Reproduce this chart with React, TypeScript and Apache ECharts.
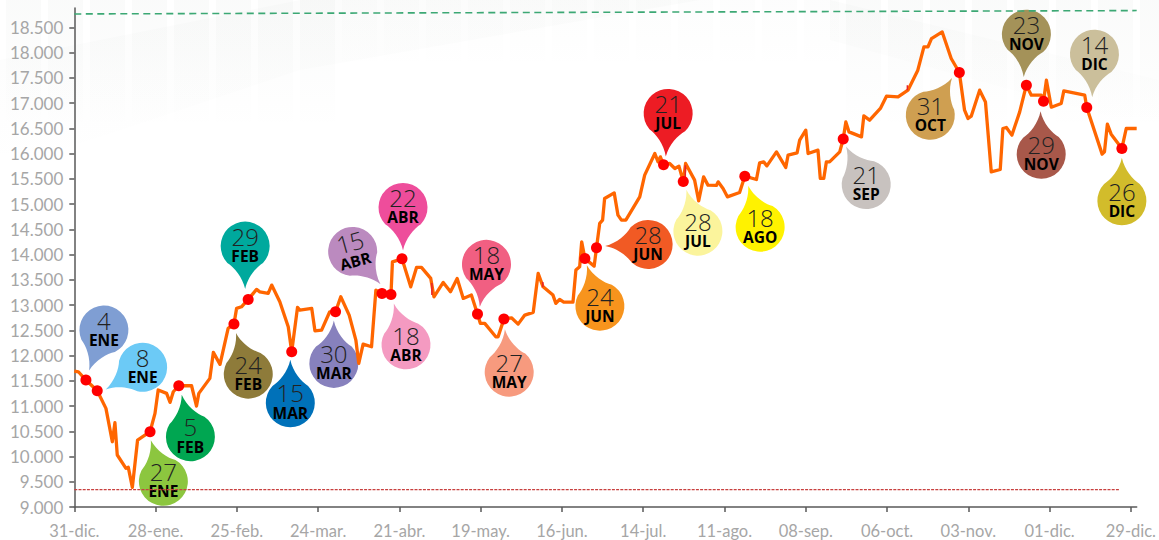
import React, { useEffect, useRef } from "react";
import * as echarts from "echarts";

const xTickLabels = ["31-dic.", "28-ene.", "25-feb.", "24-mar.", "21-abr.", "19-may.", "16-jun.", "14-jul.", "11-ago.", "08-sep.", "06-oct.", "03-nov.", "01-dic.", "29-dic."];
const yTicks = [9000, 9500, 10000, 10500, 11000, 11500, 12000, 12500, 13000, 13500, 14000, 14500, 15000, 15500, 16000, 16500, 17000, 17500, 18000, 18500];

const days = [0, 1.4, 4, 7.9, 10.9, 13.1, 14, 14.8, 17.8, 18.6, 20, 21.8, 26.1, 27.8, 28.9, 31.8, 33, 34.1, 36, 40.4, 42.1, 42.9, 46.7, 47.9, 50.2, 53, 55, 55.9, 57.6, 59.9, 62.8, 63.9, 66.8, 68, 70.8, 73.7, 74.9, 76.9, 77.7, 81.8, 82.9, 85.2, 88, 90, 91.8, 94.7, 97, 98, 99.5, 102.4, 103.9, 106, 109.1, 109.6, 112.9, 115.9, 117.9, 119.6, 122.8, 123.9, 127.1, 129.6, 131.9, 134, 136.8, 138.9, 139.9, 141.4, 145.2, 146, 148, 150.6, 152.9, 155.2, 158.1, 159.8, 161.5, 164.9, 165.9, 167.2, 168.6, 171.8, 172.8, 174.1, 174.8, 175.9, 179.1, 179.9, 181, 182, 182.7, 186, 187.3, 188.5, 190, 194.8, 196.5, 200, 201.1, 201.9, 203, 205.1, 206.9, 208.3, 209.8, 210.6, 213.7, 215.1, 216.8, 218.3, 221.2, 221.8, 223.5, 225, 229.2, 231, 235, 236.1, 237.5, 238.6, 241.9, 243.6, 245.1, 245.9, 249, 249.9, 252, 252.8, 256.2, 257, 258.2, 259.1, 260.2, 263.7, 264.9, 265.8, 266.9, 271.2, 272, 274, 277.7, 279.8, 283.8, 287.2, 290.6, 292.7, 294.1, 295.3, 299, 302.1, 304.9, 306.7, 307.9, 309, 311.9, 313.9, 315.9, 319, 319.9, 321.1, 323, 325.7, 328, 329.7, 333.1, 333.9, 334.9, 336.6, 340, 340.9, 348.1, 348.8, 354.1, 354.9, 355.9, 357.2, 360.9, 362.4, 366];
const values = [11693, 11679, 11515, 11303, 10954, 10293, 10669, 10030, 9766, 9786, 9390, 10327, 10491, 10855, 11317, 11251, 11073, 11283, 11402, 11402, 11000, 11251, 11548, 12063, 11825, 12538, 12623, 12934, 12966, 13112, 13310, 13263, 13231, 13396, 13065, 12570, 12075, 12954, 12901, 12934, 12491, 12505, 12867, 12867, 13164, 12802, 12307, 11845, 12227, 12174, 13297, 13231, 13211, 13857, 13916, 13362, 13746, 13746, 13528, 13164, 13449, 13263, 13528, 13132, 13198, 12821, 12637, 12637, 12372, 12372, 12722, 12748, 12623, 12802, 12855, 13627, 13362, 13198, 13033, 13112, 13059, 13059, 13693, 13758, 14253, 13924, 13772, 14134, 14617, 14683, 15112, 15223, 14782, 14683, 14683, 15144, 15574, 16003, 15837, 15936, 15778, 15805, 15706, 15752, 15449, 15805, 15475, 15065, 15540, 15376, 15370, 15441, 15310, 15144, 15231, 15554, 15488, 15817, 15837, 15758, 16035, 15871, 15726, 15970, 16015, 16267, 16465, 16003, 16069, 15508, 15508, 15837, 15837, 16035, 16290, 16629, 16431, 16332, 16748, 16663, 16895, 17138, 17124, 17257, 17653, 18114, 18114, 18280, 18411, 17884, 17607, 16861, 16696, 16742, 17257, 17025, 15639, 15686, 16498, 16518, 16366, 16827, 17356, 17158, 17158, 17039, 17455, 16920, 16993, 17243, 17158, 16914, 15990, 16035, 16584, 16385, 16103, 16498, 16498];

const redBitDays = [123.2, 123.2, null, 161.4, 161.4, null, 210.5, 210.5, null, 287, 287];
const redBitValues = [13436, 13198, null, 13455, 13356, null, 15772, 15534, null, 17356, 17257];

const maxDays = [0, 366];
const maxValues = [18767, 18834];
const minDays = [0, 360];
const minValues = [9343, 9343];

const markDays = [4, 7.9, 26.1, 36, 55, 59.9, 74.9, 90, 106, 109.1, 112.9, 138.9, 148, 175.9, 179.9, 203, 209.8, 231, 264.9, 304.9, 328, 333.9, 348.8, 360.9];
const markValues = [11515, 11303, 10491, 11402, 12623, 13112, 12075, 12867, 13231, 13211, 13916, 12821, 12722, 13924, 14134, 15778, 15449, 15554, 16290, 17607, 17356, 17039, 16914, 16103];
const markDayLabels = ["4", "8", "27", "5", "24", "29", "15", "30", "15", "18", "22", "18", "27", "24", "28", "21", "28", "18", "21", "31", "23", "29", "14", "26"];
const markMonthLabels = ["ENE", "ENE", "ENE", "FEB", "FEB", "FEB", "MAR", "MAR", "ABR", "ABR", "ABR", "MAY", "MAY", "JUN", "JUN", "JUL", "JUL", "AGO", "SEP", "OCT", "NOV", "NOV", "DIC", "DIC"];

// Styling of the 24 callout drops: colour, centre offset and tip offset from the point.
const dropColors = ["#7f9ed3", "#6ccaf6", "#8cc63f", "#00a651", "#8e7b3a", "#00a99d", "#0071b9", "#8781bd", "#bb8abf", "#f49ac1", "#ee4d9b", "#f15f82", "#f79a7e", "#f7941d", "#f15a24", "#ed1c24", "#fbf49c", "#fff200", "#c8c2bf", "#cf9f51", "#a49259", "#a8584a", "#cbbf9b", "#d2bc2b"];
const dropOffsets = [
  [18, -50, 3, -9], [45.4, -23.4, 8.7, -1.4], [13.3, 49.6, 0.7, 8.3], [11.6, 51, 3, 9.3], [14.3, 50, 2, 8.7], [-3, -53.3, -3, -10],
  [-1.4, 51, -1.4, 8.3], [-1.7, 51.6, -1.7, 8.3], [-29.3, -42, -1.3, -9], [15, 50.4, 3, 9.7], [1, -51.4, 1, -8], [9, -49.7, 2.3, -7.3],
  [5.3, 53, 1, 10.3], [15, 47.7, 2.7, 9], [51.6, -3.4, 8.3, -1.7], [4.6, -51.4, 2.3, -8.7], [14.6, 49.7, 3, 8], [15.3, 51, 3.3, 9.3],
  [23, 45.5, 3, 7.9], [-29, 42.7, -7, 5], [0, -51, -2.7, -7.7], [-2.3, 53, -3, 9.7], [7.7, -53.3, 5.4, -10], [0, 52.4, 0, 9],
];
const dropPath = "M0,-43 C2.5,-31 11,-21 17.8,-16.8 A24.5,24.5 0 1 1 -17.8,-16.8 C-11,-21 -2.5,-31 0,-43 Z";
const AXIS_TEXT = "#a6a6a6";
const AXIS_LINE = "#595959";

function pairs(xs: (number | null)[], ys: (number | null)[]) {
  return xs.map((x, i) => [x, ys[i]]);
}

function renderDrop(params: any, api: any) {
  const i = params.dataIndex;
  const p = api.coord([api.value(0), api.value(1)]);
  const [cdx, cdy, tdx, tdy] = dropOffsets[i];
  const cx = p[0] + cdx;
  const cy = p[1] + cdy;
  const rotation = Math.atan2(-(tdx - cdx), -(tdy - cdy));
  return {
    type: "group",
    children: [
      { type: "path", x: cx, y: cy, rotation, shape: { pathData: dropPath }, style: { fill: dropColors[i] } },
      {
        type: "group",
        x: cx,
        y: cy,
        rotation: i === 8 ? 0.27 : 0,
        children: [
          { type: "text", x: 0, y: -9.8, style: { text: markDayLabels[i], fill: "#222222", font: '300 24px "Open Sans"', textAlign: "center", textVerticalAlign: "middle" } },
          { type: "text", x: 0, y: 9.8, style: { text: markMonthLabels[i], fill: "#000000", font: '700 15.5px "Open Sans"', textAlign: "center", textVerticalAlign: "middle" } },
        ],
      },
    ],
  };
}

function fade(alpha: number) {
  return new echarts.graphic.LinearGradient(0, 0, 0, 1, [
    { offset: 0, color: `rgba(90,110,95,${alpha})` },
    { offset: 1, color: "rgba(90,110,95,0)" },
  ]);
}

function backdrop() {
  const els: any[] = [];
  for (let x = 6, k = 0; x < 1159; x += 42, k++) {
    const mid = x > 300 && x < 830;
    els.push({ type: "rect", z: -1, silent: true, shape: { x, y: 0, width: 35, height: mid ? 70 : 130 }, style: { fill: fade(mid ? 0.015 : 0.03) } });
  }
  els.push({ type: "polygon", z: -1, silent: true, shape: { points: [[0, 60], [300, 0], [700, 0], [300, 70], [0, 170]] }, style: { fill: fade(0.02) } });
  els.push({ type: "polygon", z: -1, silent: true, shape: { points: [[830, 0], [1159, 80], [1159, 130], [830, 40]] }, style: { fill: fade(0.02) } });
  return els;
}

export default function App() {
  const ref = useRef<HTMLDivElement>(null);
  useEffect(() => {
    const chart = echarts.init(ref.current!, undefined, { renderer: "svg" });
    chart.setOption({
      animation: false,
      backgroundColor: "#ffffff",
      graphic: backdrop(),
      grid: { left: 74.3, right: 22.3, top: 8, bottom: 33, containLabel: false },
      xAxis: {
        type: "value",
        min: 0,
        max: 366,
        interval: 28,
        splitLine: { show: false },
        axisLine: { lineStyle: { color: AXIS_LINE, width: 1.5 } },
        axisTick: { length: 5, lineStyle: { color: AXIS_LINE, width: 1.5 }, customValues: xTickLabels.map((_, i) => i * 28) },
        axisLabel: {
          color: AXIS_TEXT,
          fontFamily: "Lato",
          fontSize: 16.5,
          margin: 15,
          hideOverlap: false,
          customValues: xTickLabels.map((_, i) => i * 28),
          formatter: (v: number) => xTickLabels[Math.round(v / 28)] ?? "",
        },
      },
      yAxis: {
        type: "value",
        min: 9000,
        max: 18885,
        interval: 500,
        splitLine: { show: false },
        axisLine: { show: true, lineStyle: { color: AXIS_LINE, width: 1.5 } },
        axisTick: { show: true, length: 5, lineStyle: { color: AXIS_LINE, width: 1.5 }, customValues: yTicks },
        axisLabel: {
          color: AXIS_TEXT,
          fontFamily: "Lato",
          fontSize: 17,
          margin: 11,
          customValues: yTicks,
          formatter: (v: number) => String(v).replace(/(\d)(\d{3})$/, "$1.$2"),
        },
      },
      series: [
        { type: "line", data: pairs(maxDays, maxValues), showSymbol: false, silent: true, lineStyle: { color: "#3ca874", width: 1.6, type: [7, 4.5] } },
        { type: "line", data: pairs(minDays, minValues), showSymbol: false, silent: true, lineStyle: { color: "#c8403f", width: 1.2, type: [3, 1.2] } },
        { type: "line", data: pairs(days, values), showSymbol: false, silent: true, clip: false, lineStyle: { color: "#ff6600", width: 3.3, join: "round" } },
        { type: "line", data: pairs(redBitDays, redBitValues), showSymbol: false, silent: true, connectNulls: false, lineStyle: { color: "#e8202a", width: 1.5 } },
        { type: "custom", data: pairs(markDays, markValues), renderItem: renderDrop, silent: true, z: 3 },
        { type: "scatter", data: pairs(markDays, markValues), symbol: "circle", symbolSize: 11, silent: true, itemStyle: { color: "#ff0000", opacity: 1 }, z: 4 },
      ],
    });
    return () => chart.dispose();
  }, []);
  return <div ref={ref} style={{ position: "fixed", left: 0, top: 0, width: 1159, height: 540 }} />;
}
